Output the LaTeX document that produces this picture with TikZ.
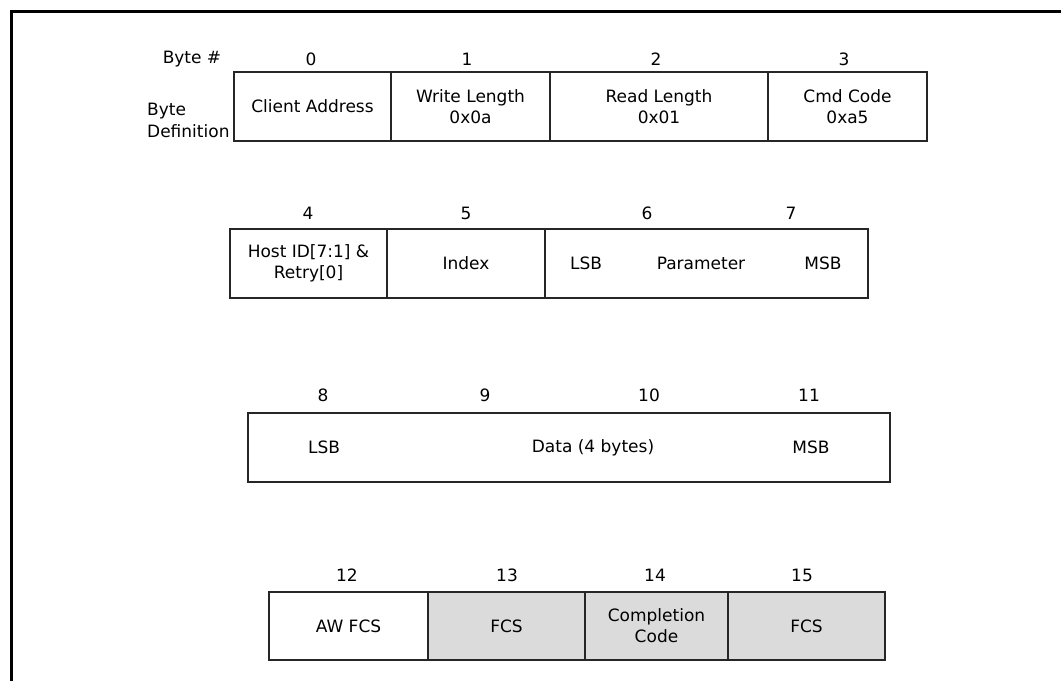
\documentclass[tikz,border=0pt]{standalone}
\usepackage{fontspec}
\setmainfont{DejaVu Sans}
\begin{document}
\begin{tikzpicture}[x=1pt,y=-1pt,
  txt/.style={inner sep=0pt,font=\fontsize{17}{21}\selectfont,align=center},
  cell/.style={txt,draw=black!85,line width=1.4pt,rectangle},
  gcell/.style={cell,fill=black!14},
  frameline/.style={line width=3pt,black}]
\useasboundingbox (0,0) rectangle (1061,681);
% frame
\coordinate (ftl) at (11,11);
\coordinate (ftr) at (1061,11);
\coordinate (fbl) at (11,681);
\draw[frameline] (ftr) -- (ftl) -- (fbl);
% row labels
\node[txt,anchor=center] (bytehash) at (192,59) {Byte \#};
\node[txt,anchor=west,align=left,font=\fontsize{17}{22}\selectfont] (bytedef) at (147,120) {Byte\\Definition};
% row 1
\node[cell,minimum width=157pt,minimum height=69pt] (c0) at (312.5,106.5) {Client Address};
\node[cell,minimum width=159pt,minimum height=69pt] (c1) at (470.5,106.5) {Write Length\\0x0a};
\node[cell,minimum width=218pt,minimum height=69pt] (c2) at (659,106.5) {Read Length\\0x01};
\node[cell,minimum width=159pt,minimum height=69pt] (c3) at (847.5,106.5) {Cmd Code\\0xa5};
\node[txt] (n0) at (311,59) {0};
\node[txt] (n1) at (467,59) {1};
\node[txt] (n2) at (656,59) {2};
\node[txt] (n3) at (844,59) {3};
% row 2
\node[cell,minimum width=157pt,minimum height=69pt] (c4) at (308.5,263.5) {Host ID[7:1] \&\\Retry[0]};
\node[cell,minimum width=158pt,minimum height=69pt] (c5) at (466,263.5) {Index};
\node[cell,minimum width=323pt,minimum height=69pt] (c67) at (706.5,263.5) {};
\node[txt] (lsb1) at (586,263.5) {LSB};
\node[txt] (par) at (701,263.5) {Parameter};
\node[txt] (msb1) at (823,263.5) {MSB};
\node[txt] (n4) at (308,213) {4};
\node[txt] (n5) at (466,213) {5};
\node[txt] (n6) at (647,213) {6};
\node[txt] (n7) at (791,213) {7};
% row 3
\node[cell,minimum width=642pt,minimum height=69pt] (c811) at (569,447.5) {};
\node[txt] (lsb2) at (324,447.5) {LSB};
\node[txt] (data) at (593,447.5) {Data (4 bytes)};
\node[txt] (msb2) at (811,447.5) {MSB};
\node[txt] (n8) at (323,395) {8};
\node[txt] (n9) at (485,395) {9};
\node[txt] (n10) at (649,395) {10};
\node[txt] (n11) at (809,395) {11};
% row 4
\node[cell,minimum width=159pt,minimum height=68pt] (c12) at (348.5,626) {AW FCS};
\node[gcell,minimum width=157pt,minimum height=68pt] (c13) at (506.5,626) {FCS};
\node[gcell,minimum width=143pt,minimum height=68pt] (c14) at (656.5,626) {Completion\\Code};
\node[gcell,minimum width=157pt,minimum height=68pt] (c15) at (806.5,626) {FCS};
\node[txt] (n12) at (347,575) {12};
\node[txt] (n13) at (507,575) {13};
\node[txt] (n14) at (655,575) {14};
\node[txt] (n15) at (802,575) {15};
\end{tikzpicture}
\end{document}
